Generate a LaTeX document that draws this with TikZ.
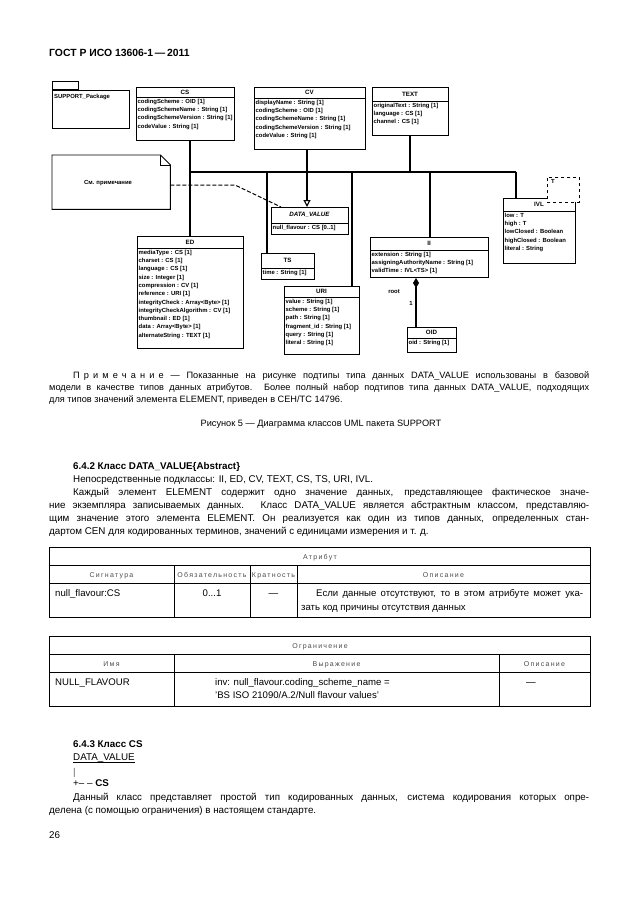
\documentclass[tikz,border=0pt]{standalone}
\usepackage{fontspec}
\setmainfont{Liberation Sans}
\newfontfamily\lsfont[LetterSpace=18]{Liberation Sans}
\newfontfamily\primfont[LetterSpace=45]{Liberation Sans}
\usetikzlibrary{arrows.meta}
\tikzset{
  clsbox/.style={draw, line width=1pt, inner sep=0, fill=white},
  clsline/.style={line width=0.8pt},
  clstitle/.style={font=\fontsize{6.2}{7}\selectfont\bfseries, inner sep=0},
  clsattr/.style={anchor=north west, inner sep=0, align=left, font=\fontsize{5.9}{8.3}\selectfont\bfseries},
  conn/.style={line width=1.1pt},
  notelink/.style={line width=1pt, dash pattern=on 4pt off 2pt},
  gen/.style={-{Triangle[open,length=7pt,width=7pt]}},
  comp/.style={{Diamond[length=10pt,width=6pt]}-},
  small/.style={font=\fontsize{5.9}{7}\selectfont\bfseries, inner sep=0},
  body/.style={anchor=base west, inner sep=0, font=\fontsize{9.8}{13}\selectfont},
  notet/.style={anchor=base west, inner sep=0, font=\fontsize{9.2}{12}\selectfont},
  tbl/.style={line width=0.6pt},
  thead/.style={anchor=base, inner sep=0, font=\fontsize{7}{8}\lsfont, text=black!70},
  tcell/.style={anchor=base west, inner sep=0, font=\fontsize{9.6}{12}\selectfont}
}
\newcommand\umlcls[8]{%
  \node[clsbox, minimum width={#4-#2}, minimum height={#5-#3}, anchor=north west] (#1) at (#2,#3) {};
  \draw[clsline] (#2,#6) -- (#4,#6);
  \node[clstitle] (#1-t) at ({(#2+#4)/2},{(#3+#6)/2}) {#7};
  \node[clsattr] (#1-a) at ({#2+1.5},{#6+1.8}) {#8};
}
\begin{document}
\begin{tikzpicture}[x=1pt,y=-1pt]
\fill[white] (0,0) rectangle (630,913);
\useasboundingbox (0,0) rectangle (630,913);

% header
\node[anchor=base west, inner sep=0, font=\fontsize{10.4}{12}\selectfont\bfseries] (hdr) at (49,56) {ГОСТ Р ИСО 13606-1\,—\,2011};

% package
\node[draw, line width=0.9pt, anchor=north west, minimum width=77, minimum height=38, inner sep=0] (pkg) at (52,90) {};
\node[draw, line width=0.9pt, anchor=south west, minimum width=26, minimum height=8, inner sep=0] (pkgtab) at (pkg.north west) {};
\node[small, anchor=north west] (pkgname) at (54,94.5) {SUPPORT\_Package};

% junction coordinates
\coordinate (jED) at (190,172);
\coordinate (jTS) at (267,172);
\coordinate (jCV) at (307,172);
\coordinate (jURI) at (352,172);
\coordinate (jTEXT) at (410,172);
\coordinate (jII) at (430,172);
\coordinate (jIVL) at (516,172);
\coordinate (ox) at (416,300);
\coordinate (nb) at (235,185);

% connectors (drawn first)
\draw[conn] (jED) -- (jIVL);
\draw[conn] (190,140) -- (190,236);
\draw[conn] (jTS) -- (267,253);
\draw[conn] (jURI) -- (352,286);
\draw[conn] (410,135) -- (jTEXT);
\draw[conn] (jII) -- (430,237);
\draw[conn] (jIVL) -- (516,198);

% classes
\umlcls{CS}{136}{87}{234}{140}{97}{CS}{codingScheme : OID [1]\\codingSchemeName : String [1]\\codingSchemeVersion : String [1]\\codeValue : String [1]}
\umlcls{CV}{254}{87}{365}{149}{98}{CV}{displayName : String [1]\\codingScheme : OID [1]\\codingSchemeName : String [1]\\codingSchemeVersion : String [1]\\codeValue : String [1]}
\umlcls{TEXT}{372}{87}{448}{135}{101}{TEXT}{originalText : String [1]\\language : CS [1]\\channel : CS [1]}
\umlcls{DV}{271}{207}{348}{234}{223}{\textit{DATA\_VALUE}}{null\_flavour : CS [0..1]}
\umlcls{ED}{137}{236}{243}{348}{248}{ED}{mediaType : CS [1]\\charset : CS [1]\\language : CS [1]\\size : Integer [1]\\compression : CV [1]\\reference : URI [1]\\integrityCheck : Array<Byte> [1]\\integrityCheckAlgorithm : CV [1]\\thumbnail : ED [1]\\data : Array<Byte> [1]\\alternateString : TEXT [1]}
\umlcls{TS}{261}{253}{314}{279}{268}{TS}{time : String [1]}
\umlcls{URI}{284}{286}{359}{354}{297}{URI}{value : String [1]\\scheme : String [1]\\path : String [1]\\fragment\_id : String [1]\\query : String [1]\\literal : String [1]}
\umlcls{II}{370}{237}{488}{277}{250}{II}{extension : String [1]\\assigningAuthorityName : String [1]\\validTime : IVL<TS> [1]}
\umlcls{OID}{407}{327}{456}{352}{338}{OID}{oid : String [1]}
\umlcls{IVL}{503}{198}{575}{263}{211}{IVL}{low : T\\high : T\\lowClosed : Boolean\\highClosed : Boolean\\literal : String}

% template parameter
\node[draw, dashed, line width=0.9pt, fill=white, anchor=north west, minimum width=32, minimum height=25, inner sep=0] (tpar) at (547,177) {};
\node[small, anchor=north west] (tparT) at (551,179.5) {T};

% generalization and composition
\draw[conn, gen] (CV.south -| jCV) -- (DV.north -| jCV);
\draw[conn, comp] (II.south -| ox) -- (OID.north -| ox);
\node[small] (rootlbl) at (394,292) {root};
\node[small] (onelbl) at (411,303) {1};

% note
\node[anchor=north west, minimum width=118, minimum height=54, inner sep=0] (note) at (52,155) {};
\draw[line width=0.9pt] (note.north west) -- ([xshift=-10pt]note.north east) -- ([yshift=-10pt]note.north east) -- (note.south east) -- (note.south west) -- cycle;
\draw[line width=0.7pt] ([xshift=-10pt]note.north east) -- ([xshift=-10pt,yshift=-10pt]note.north east) -- ([yshift=-10pt]note.north east);
\node[small] (notetext) at (108,183) {См. примечание};
\draw[notelink] (note.east |- nb) -- (nb) -- ([xshift=10pt]DV.north west);

% note paragraph
\node[notet] (n1) at (73,378) {\makebox[516pt][s]{{\primfont Примечание} — Показанные на рисунке подтипы типа данных DATA\_VALUE использованы в базовой}};
\node[notet] (n2) at (49,390) {\makebox[540pt][s]{модели в качестве типов данных атрибутов. Более полный набор подтипов типа данных DATA\_VALUE, подходящих}};
\node[notet] (n3) at (49,402) {для типов значений элемента ELEMENT, приведен в СЕН/ТС 14796.};

\node[anchor=base, inner sep=0, font=\fontsize{9.2}{12}\selectfont] (caption) at (321,426) {Рисунок 5 — Диаграмма классов UML пакета SUPPORT};

% 6.4.2
\node[body, font=\fontsize{9.8}{13}\selectfont\bfseries] (h642) at (73,469.5) {6.4.2 Класс DATA\_VALUE\{Abstract\}};
\node[body] (p1) at (73,482) {Непосредственные подклассы: II, ED, CV, TEXT, CS, TS, URI, IVL.};
\node[body] (p2) at (73,495) {\makebox[516pt][s]{Каждый элемент ELEMENT содержит одно значение данных, представляющее фактическое значе-}};
\node[body] (p3) at (49,508) {\makebox[540pt][s]{ние экземпляра записываемых данных. Класс DATA\_VALUE является абстрактным классом, представляю-}};
\node[body] (p4) at (49,521) {\makebox[540pt][s]{щим значение этого элемента ELEMENT. Он реализуется как один из типов данных, определенных стан-}};
\node[body] (p5) at (49,534) {дартом CEN для кодированных терминов, значений с единицами измерения и т. д.};

% table 1
\draw[tbl] (49,547) rectangle (590,617);
\draw[tbl] (49,565) -- (590,565);
\draw[tbl] (49,583) -- (590,583);
\draw[tbl] (174,565) -- (174,617);
\draw[tbl] (250,565) -- (250,617);
\draw[tbl] (297,565) -- (297,617);
\node[thead] (t1h) at (320,559) {Атрибут};
\node[thead] (t1c1) at (111.5,577) {Сигнатура};
\node[thead] (t1c2) at (212,577) {Обязательность};
\node[thead] (t1c3) at (273.5,577) {Кратность};
\node[thead] (t1c4) at (443.5,577) {Описание};
\node[tcell] (t1d1) at (55,596) {null\_flavour:CS};
\node[tcell, anchor=base] (t1d2) at (212,596) {0...1};
\node[tcell, anchor=base] (t1d3) at (273.5,596) {—};
\node[tcell] (t1d4) at (316,596) {\makebox[267pt][s]{Если данные отсутствуют, то в этом атрибуте может ука-}};
\node[tcell] (t1d5) at (301,610) {зать код причины отсутствия данных};

% table 2
\draw[tbl] (49,636) rectangle (590,706);
\draw[tbl] (49,654) -- (590,654);
\draw[tbl] (49,672) -- (590,672);
\draw[tbl] (174,654) -- (174,706);
\draw[tbl] (499,654) -- (499,706);
\node[thead] (t2h) at (320,648) {Ограничение};
\node[thead] (t2c1) at (111.5,666) {Имя};
\node[thead] (t2c2) at (336.5,666) {Выражение};
\node[thead] (t2c3) at (544.5,666) {Описание};
\node[tcell] (t2d1) at (55,685) {NULL\_FLAVOUR};
\node[tcell] (t2d2) at (215,685) {inv: null\_flavour.coding\_scheme\_name =};
\node[tcell] (t2d3) at (215,698) {'BS ISO 21090/A.2/Null flavour values'};
\node[tcell, anchor=base] (t2d4) at (531,685) {—};

% 6.4.3
\node[body, font=\fontsize{9.8}{13}\selectfont\bfseries] (h643) at (73,747.5) {6.4.3 Класс CS};
\node[body] (dv) at (73,760.5) {DATA\_VALUE};
\draw[line width=0.6pt] (dv.south west) ++(0,-0.5) coordinate (ul1) (ul1) -- (ul1 -| dv.south east);
\node[body, text=black!60] (bar) at (73,775) {|};
\node[body] (plus) at (73,786.5) {+– – \textbf{CS}};
\node[body] (q1) at (73,800.5) {\makebox[516pt][s]{Данный класс представляет простой тип кодированных данных, система кодирования которых опре-}};
\node[body] (q2) at (49,813.5) {делена (с помощью ограничения) в настоящем стандарте.};
\node[body] (pg) at (49,838.5) {26};
\end{tikzpicture}
\end{document}
